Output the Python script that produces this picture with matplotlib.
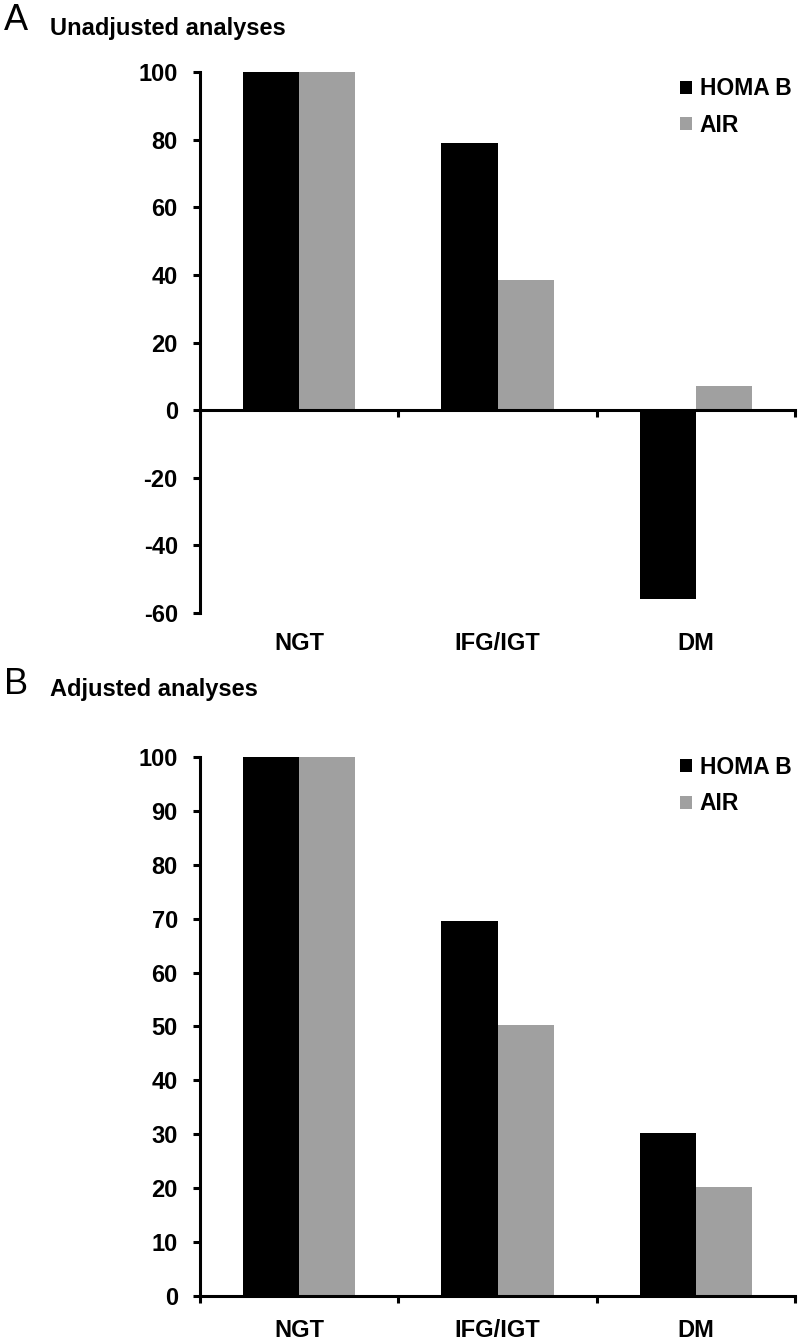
import matplotlib
matplotlib.use("Agg")
import matplotlib.pyplot as plt
import numpy as np

plt.rcParams["font.family"] = ["Liberation Sans", "DejaVu Sans"]
plt.rcParams["axes.unicode_minus"] = False

categories = ["NGT", "IFG/IGT", "DM"]
series_names = ["HOMA B", "AIR"]
colors = ["#000000", "#a0a0a0"]

# panel A: unadjusted
homa_unadj = [100, 79, -56]
air_unadj = [100, 38.5, 7]
# panel B: adjusted
homa_adj = [100, 69.6, 30.2]
air_adj = [100, 50.3, 20.3]

yticks_a = [-60, -40, -20, 0, 20, 40, 60, 80, 100]
yticks_b = [0, 10, 20, 30, 40, 50, 60, 70, 80, 90, 100]

fig = plt.figure(figsize=(8, 13.44), dpi=100)
ax_a = fig.add_axes([0.25, 0.5439, 0.744, 0.4025])
ax_b = fig.add_axes([0.25, 0.0357, 0.744, 0.4011])


def draw_panel(ax, homa, air, yticks, label_off, leg_y):
    x = np.arange(len(categories))
    w = 0.283
    ax.bar(x - w / 2, homa, w, color=colors[0], label=series_names[0])
    ax.bar(x + w / 2, air, w, color=colors[1], label=series_names[1])
    ax.set_xlim(-0.5, len(categories) - 0.5)
    ax.set_ylim(yticks[0], yticks[-1])
    ax.set_yticks(yticks)
    ax.set_xticks(np.arange(len(categories) + 1) - 0.5)
    ax.set_xticklabels([])
    for s in ["top", "right"]:
        ax.spines[s].set_visible(False)
    ax.spines["left"].set_linewidth(2.2)
    ax.spines["bottom"].set_linewidth(2.2)
    ax.spines["bottom"].set_position(("data", 0))
    ax.tick_params(axis="both", direction="out", length=5, width=2.2)
    ax.tick_params(axis="y", pad=11, labelsize=17)
    for lab in ax.get_yticklabels():
        lab.set_fontweight("bold")
    for i, c in enumerate(categories):
        ax.annotate(c, xy=(i, 0), xycoords=ax.get_xaxis_transform(),
                    xytext=(0, -label_off), textcoords="offset pixels",
                    ha="center", va="center", fontsize=17, fontweight="bold")
    ax.legend(loc="upper left", bbox_to_anchor=(0.78, leg_y), frameon=False,
              handlelength=0.5, handleheight=0.5, handletextpad=0.35,
              labelspacing=0.6, borderpad=0.2,
              prop={"size": 16.5, "weight": "bold"})


draw_panel(ax_a, homa_unadj, air_unadj, yticks_a, 31, 1.02)
draw_panel(ax_b, homa_adj, air_adj, yticks_b, 34, 1.032)

fig.text(0.005, 1 - 21 / 1344, "A", fontsize=26, va="center", ha="left")
fig.text(0.0625, 1 - 28 / 1344, "Unadjusted analyses", fontsize=17, fontweight="bold",
         va="center", ha="left")
fig.text(0.005, 1 - 685 / 1344, "B", fontsize=26, va="center", ha="left")
fig.text(0.0625, 1 - 690 / 1344, "Adjusted analyses", fontsize=17, fontweight="bold",
         va="center", ha="left")

fig.savefig("out.png", dpi=100)
